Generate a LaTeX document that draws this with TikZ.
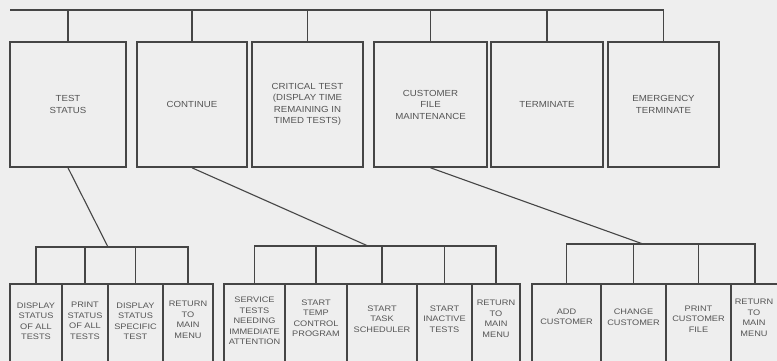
\documentclass[tikz,border=0pt]{standalone}
\usepackage{fontspec}
\newfontfamily\topfont[FakeStretch=1.1]{Liberation Sans}
\newfontfamily\lowfont[FakeStretch=1.15]{Liberation Sans}
\definecolor{bg}{HTML}{EEEEEE}
\definecolor{ink}{HTML}{454545}
\definecolor{txt}{HTML}{555555}
\begin{document}
\begin{tikzpicture}[x=1pt,y=-1pt,
  topbox/.style={draw=ink, line width=1.6pt, minimum height=125pt, inner sep=0pt,
    text=txt, font=\topfont\fontsize{8.8}{11.5}\selectfont, align=center},
  lowbox/.style={draw=ink, line width=1.5pt, minimum height=84pt, anchor=north, inner sep=0pt},
  lowtxt/.style={text=txt, font=\lowfont\fontsize{8}{10.5}\selectfont, align=center, inner sep=0pt},
  link/.style={draw=ink, line width=1.1pt},
  rootlink/.style={draw=ink, line width=1.4pt}]
\fill[bg] (0,0) rectangle (777,361);
\useasboundingbox (0,0) rectangle (777,361);
\clip (0,0) rectangle (777,361);

% top level
\node[topbox, minimum width=116pt] (T1) at (68,104.5) {TEST\\STATUS};
\node[topbox, minimum width=110pt] (T2) at (192,104.5) {CONTINUE};
\node[topbox, minimum width=111pt] (T3) at (307.5,104.5) {CRITICAL TEST\\(DISPLAY TIME\\REMAINING IN\\TIMED TESTS)};
\node[topbox, minimum width=113pt] (T4) at (430.5,104.5) {CUSTOMER\\FILE\\MAINTENANCE};
\node[topbox, minimum width=112pt] (T5) at (547,104.5) {TERMINATE};
\node[topbox, minimum width=111pt] (T6) at (663.5,104.5) {EMERGENCY\\TERMINATE};

\coordinate (root) at (10,10);
\draw[rootlink] (root) -- (root -| T6.north) -- (T6.north);
\foreach \n in {T1,T2,T3,T4,T5} \draw[link] (\n.north) -- (\n.north |- root);

% group 1
\node[lowbox, minimum width=52pt] (A1) at (36,283) {};
\node[lowbox, minimum width=46pt] (A2) at (85,283) {};
\node[lowbox, minimum width=55pt] (A3) at (135.5,283) {};
\node[lowbox, minimum width=50pt] (A4) at (188,283) {};
\node[lowtxt] (A1t) at (36,321) {DISPLAY\\STATUS\\OF ALL\\TESTS};
\node[lowtxt] (A2t) at (85,321) {PRINT\\STATUS\\OF ALL\\TESTS};
\node[lowtxt] (A3t) at (135.5,321) {DISPLAY\\STATUS\\SPECIFIC\\TEST};
\node[lowtxt] (A4t) at (188,320) {RETURN\\TO\\MAIN\\MENU};
\coordinate (j1) at (108,247);
\draw[link] (A1.north) -- (A1.north |- j1) -- (A4.north |- j1) -- (A4.north);
\draw[link] (A2.north) -- (A2.north |- j1);
\draw[link] (A3.north) -- (A3.north |- j1);
\draw[link] (T1.south) -- (j1);

% group 2
\node[lowbox, minimum width=61pt] (B1) at (254.5,283) {};
\node[lowbox, minimum width=62pt] (B2) at (316,283) {};
\node[lowbox, minimum width=70pt] (B3) at (382,283) {};
\node[lowbox, minimum width=55pt] (B4) at (444.5,283) {};
\node[lowbox, minimum width=48pt] (B5) at (496,283) {};
\node[lowtxt] (B1t) at (254.5,321) {SERVICE\\TESTS\\NEEDING\\IMMEDIATE\\ATTENTION};
\node[lowtxt] (B2t) at (316,318) {START\\TEMP\\CONTROL\\PROGRAM};
\node[lowtxt] (B3t) at (382,319) {START\\TASK\\SCHEDULER};
\node[lowtxt] (B4t) at (444.5,319) {START\\INACTIVE\\TESTS};
\node[lowtxt] (B5t) at (496,319) {RETURN\\TO\\MAIN\\MENU};
\coordinate (j2) at (368,246);
\draw[link] (B1.north) -- (B1.north |- j2) -- (B5.north |- j2) -- (B5.north);
\foreach \n in {B2,B3,B4} \draw[link] (\n.north) -- (\n.north |- j2);
\draw[link] (T2.south) -- (j2);

% group 3
\node[lowbox, minimum width=69pt] (C1) at (566.5,283) {};
\node[lowbox, minimum width=65pt] (C2) at (633.5,283) {};
\node[lowbox, minimum width=65pt] (C3) at (698.5,283) {};
\node[lowbox, minimum width=48pt] (C4) at (755,283) {};
\node[lowtxt] (C1t) at (566.5,317) {ADD\\CUSTOMER};
\node[lowtxt] (C2t) at (633.5,317) {CHANGE\\CUSTOMER};
\node[lowtxt] (C3t) at (698.5,319) {PRINT\\CUSTOMER\\FILE};
\node[lowtxt] (C4t) at (754,318) {RETURN\\TO\\MAIN\\MENU};
\coordinate (j3) at (643,244);
\draw[link] (C1.north) -- (C1.north |- j3) -- (C4.north |- j3) -- (C4.north);
\foreach \n in {C2,C3} \draw[link] (\n.north) -- (\n.north |- j3);
\draw[link] (T4.south) -- (j3);
\end{tikzpicture}
\end{document}
